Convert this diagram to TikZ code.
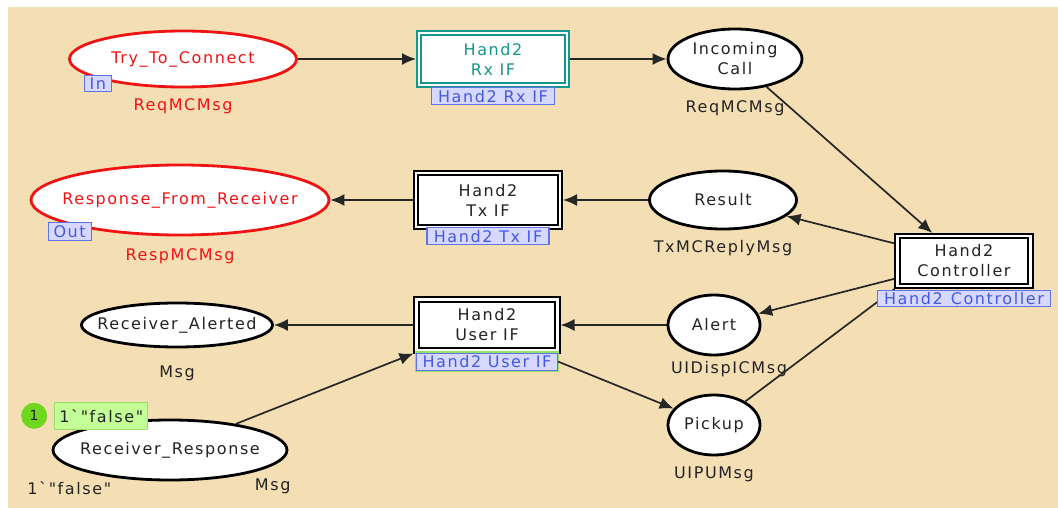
\documentclass[tikz,border=0pt]{standalone}
\usepackage{fontspec}
\newfontfamily\cpnfont[LetterSpace=10]{DejaVu Sans}
\usetikzlibrary{positioning}
\usetikzlibrary{shapes.geometric}
\usetikzlibrary{arrows.meta}

\definecolor{sfondo}{RGB}{244,222,180}
\definecolor{rosso}{RGB}{238,20,20}
\definecolor{testo}{RGB}{35,35,35}
\definecolor{verdeacqua}{RGB}{20,150,140}
\definecolor{tagbordo}{RGB}{95,115,230}
\definecolor{tagfondo}{RGB}{214,216,255}
\definecolor{tagtesto}{RGB}{70,90,225}
\definecolor{verdetok}{RGB}{110,215,30}
\definecolor{verdemark}{RGB}{195,255,150}
\definecolor{verdebordo}{RGB}{150,225,100}

\begin{document}
\begin{tikzpicture}[x=1pt, y=-1pt,
    every node/.style={font=\cpnfont\fontsize{16}{20}\selectfont, text=testo},
    posto/.style={ellipse, draw=black, line width=2.8pt, fill=white, inner sep=0pt},
    porta/.style={posto, draw=rosso},
    trans/.style={rectangle, draw=black, double=white, double distance=2.4pt, line width=1.9pt, fill=white, inner sep=0pt, outer sep=3pt, align=center},
    tag/.style={rectangle, draw=tagbordo, fill=tagfondo, text=tagtesto, line width=1.2pt, inner sep=0pt, minimum height=17pt},
    tipo/.style={inner sep=0pt},
    arco/.style={draw=black!85, line width=1.7pt, -{Latex[length=14pt, width=12pt]}},
  ]
  % Sfondo
  \useasboundingbox (0,0) rectangle (1058,508);
  \fill[white] (0,0) rectangle (1058,508);
  \fill[sfondo] (8,7) rectangle (1058,508);

  % Posti di ingresso e uscita
  \node[porta, minimum width=227pt, minimum height=56pt, label={[text=rosso]center:Try\_To\_Connect}] (tryc) at (183,59) {};
  \node[porta, minimum width=298pt, minimum height=70pt, label={[text=rosso]center:Response\_From\_Receiver}] (resp) at (180,200) {};

  % Posti interni
  \node[posto, minimum width=134pt, minimum height=60pt, label={[align=center]center:Incoming\\Call}] (call) at (735,59) {};
  \node[posto, minimum width=147pt, minimum height=58pt, label={center:Result}] (result) at (723,200) {};
  \node[posto, minimum width=92pt, minimum height=60pt, label={center:Alert}] (alert) at (714,325) {};
  \node[posto, minimum width=92pt, minimum height=60pt, label={center:Pickup}] (pickup) at (714,425) {};
  \node[posto, minimum width=191pt, minimum height=44pt, label={center:Receiver\_Alerted}] (ralert) at (177,325) {};
  \node[posto, minimum width=234pt, minimum height=60pt, label={center:Receiver\_Response}] (rresp) at (170,450) {};

  % Transizioni di sostituzione
  \node[trans, draw=verdeacqua, text=verdeacqua, minimum width=148pt, minimum height=52pt] (rxif) at (493,59) {Hand2\\Rx IF};
  \node[trans, minimum width=144pt, minimum height=54pt] (txif) at (488,200) {Hand2\\Tx IF};
  \node[trans, minimum width=141pt, minimum height=51pt] (userif) at (487,325) {Hand2\\User IF};
  \node[trans, minimum width=133pt, minimum height=50pt] (ctrl) at (964,261) {Hand2\\Controller};

  % Tipi dei posti
  \node[tipo, text=rosso, below=10pt of tryc] (ttryc) {ReqMCMsg};
  \node[tipo, text=rosso, below=12pt of resp] (tresp) {RespMCMsg};
  \node[tipo, below=10pt of call] (tcall) {ReqMCMsg};
  \node[tipo, below=10pt of result] (tresult) {TxMCReplyMsg};
  \node[tipo, below=5pt of alert, xshift=15pt] (talert) {UIDispICMsg};
  \node[tipo, below=10pt of pickup] (tpickup) {UIPUMsg};
  \node[tipo, below=17pt of ralert] (tralert) {Msg};
  \node[tipo] (trresp) at ([xshift=19pt, yshift=-14pt]rresp.south east) {Msg};

  % Marcatura iniziale
  \node[tipo] (init) at ([xshift=-17pt, yshift=-16pt]rresp.south west) {1`"false"};
  \node[tipo, fill=verdemark, draw=verdebordo, line width=0.8pt, minimum width=93pt, minimum height=27pt] (mark) at ([xshift=15pt, yshift=12pt]rresp.north west) {1`"false"};
  \node[circle, fill=verdetok, inner sep=0pt, minimum size=26pt, font=\cpnfont\fontsize{14}{16}\selectfont, left=7pt of mark] (tok) {1};

  % Archi
  \draw[arco] (tryc) -- (rxif);
  \draw[arco] (rxif) -- (call);
  \draw[arco] (call) -- (ctrl);
  \draw[arco] (ctrl) -- (result);
  \draw[arco] (result) -- (txif);
  \draw[arco] (txif) -- (resp);
  \draw[arco] (ctrl) -- (alert);
  \draw[arco] (alert) -- (userif);
  \draw[arco] (userif) -- (ralert);
  \draw[arco] (rresp) -- (userif.south west);
  \draw[draw=black!85, line width=1.7pt] (pickup) -- (ctrl.south west);

  % Etichette di porta e di sottopagina
  \node[tag, minimum width=27pt, minimum height=16pt] (tin) at ([xshift=-4pt, yshift=-4pt]tryc.south west) {In};
  \node[tag, minimum width=43pt, minimum height=18pt] (tout) at ([xshift=-4pt, yshift=-6pt]resp.south west) {Out};
  \node[tag, minimum width=123pt, below=-1pt of rxif] (rxtag) {Hand2 Rx IF};
  \node[tag, minimum width=122pt, below=-3pt of txif] (txtag) {Hand2 Tx IF};
  \node[tag, minimum width=141pt, below=-1pt of userif, preaction={draw=verdebordo, line width=3.5pt}] (usertag) {Hand2 User IF};
  \node[tag, minimum width=173pt, minimum height=16pt, below=1pt of ctrl] (ctrltag) {Hand2\enspace Controller};
  \draw[arco] (usertag.east) -- (pickup);
\end{tikzpicture}
\end{document}
